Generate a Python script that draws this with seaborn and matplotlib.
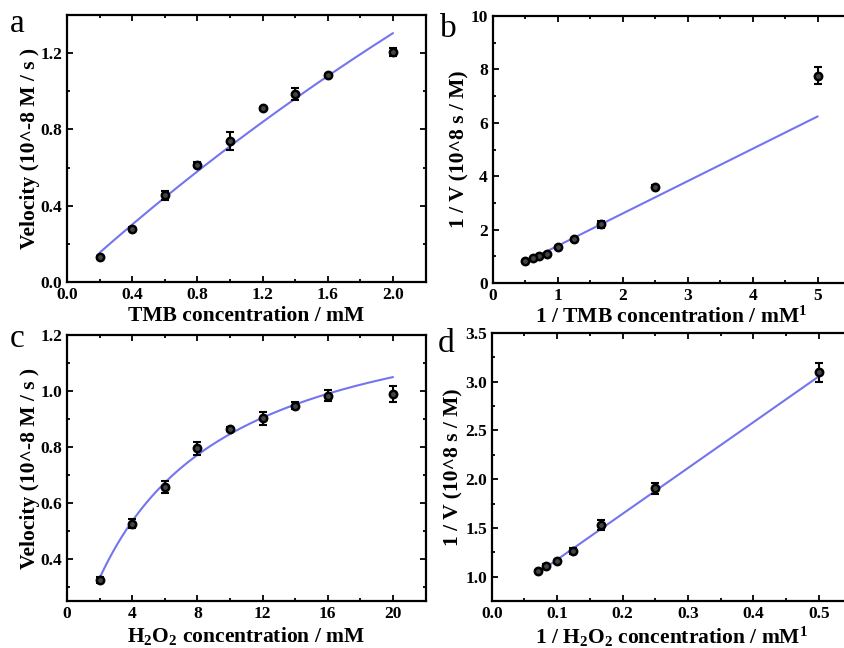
import numpy as np
import matplotlib
matplotlib.use("Agg")
import matplotlib.pyplot as plt
from matplotlib.ticker import MultipleLocator, FormatStrFormatter
import seaborn as sns

# ---- TMB series (panel a) ----
tmb_conc = [0.2, 0.4, 0.6, 0.8, 1.0, 1.2, 1.4, 1.6, 2.0]
tmb_vel = [0.13, 0.28, 0.455, 0.615, 0.74, 0.91, 0.985, 1.085, 1.205]
tmb_err = [0.008, 0.008, 0.023, 0.012, 0.046, 0.01, 0.033, 0.008, 0.02]
tmb_vmax, tmb_km = 7.83, 10.0

# ---- Lineweaver-Burk, TMB (panel b) ----
tmb_inv_conc = [5.0, 2.5, 1.667, 1.25, 1.0, 0.833, 0.714, 0.625, 0.5]
tmb_inv_vel = [7.77, 3.6, 2.2, 1.63, 1.35, 1.10, 1.015, 0.92, 0.83]
tmb_inv_err = [0.31, 0.06, 0.14, 0.05, 0.05, 0.04, 0.04, 0.03, 0.03]
tmb_lb_slope, tmb_lb_icpt = 1.212, 0.18

# ---- H2O2 series (panel c) ----
h2o2_conc = [2, 4, 6, 8, 10, 12, 14, 16, 20]
h2o2_vel = [0.325, 0.526, 0.656, 0.795, 0.864, 0.902, 0.948, 0.983, 0.988]
h2o2_err = [0.01, 0.017, 0.021, 0.022, 0.008, 0.023, 0.013, 0.02, 0.029]
h2o2_vmax, h2o2_km = 1.382, 6.33

# ---- Lineweaver-Burk, H2O2 (panel d) ----
h2o2_inv_conc = [0.5, 0.25, 0.1667, 0.125, 0.1, 0.0833, 0.0714]
h2o2_inv_vel = [3.096, 1.905, 1.53, 1.26, 1.16, 1.11, 1.055]
h2o2_inv_err = [0.094, 0.055, 0.05, 0.03, 0.015, 0.02, 0.01]
h2o2_lb_slope, h2o2_lb_icpt = 4.70, 0.704

FIT_COLOR = "#7474f0"
W, H = 845, 648

sns.set_theme(style="ticks")
plt.rcParams["font.family"] = ["Liberation Serif", "DejaVu Serif"]
plt.rcParams["font.weight"] = "bold"
plt.rcParams["text.color"] = "black"
plt.rcParams["axes.labelcolor"] = "black"
plt.rcParams["xtick.color"] = "black"
plt.rcParams["ytick.color"] = "black"
plt.rcParams["mathtext.fontset"] = "custom"
plt.rcParams["mathtext.rm"] = "Liberation Serif:bold"
plt.rcParams["mathtext.it"] = "Liberation Serif:bold"
plt.rcParams["mathtext.bf"] = "Liberation Serif:bold"
plt.rcParams["mathtext.default"] = "rm"

fig = plt.figure(figsize=(W / 100, H / 100), dpi=100)


def px_axes(left, top, right, bottom):
    return fig.add_axes([left / W, 1 - bottom / H, (right - left) / W, (bottom - top) / H])


def style(ax, xlim, ylim, xmaj, xmin, ymaj, ymin, xfmt, yfmt, xlabel, ylabel, ylpad):
    ax.set_xlim(*xlim)
    ax.set_ylim(*ylim)
    ax.xaxis.set_major_locator(MultipleLocator(xmaj))
    ax.xaxis.set_minor_locator(MultipleLocator(xmin))
    ax.yaxis.set_major_locator(MultipleLocator(ymaj))
    ax.yaxis.set_minor_locator(MultipleLocator(ymin))
    ax.xaxis.set_major_formatter(FormatStrFormatter(xfmt))
    ax.yaxis.set_major_formatter(FormatStrFormatter(yfmt))
    ax.tick_params(which="both", direction="in", top=True, right=True,
                   width=1.3, colors="black", labelsize=12.5, pad=3.5)
    ax.tick_params(which="major", length=4.5)
    ax.tick_params(which="minor", length=2.5)
    for lab in ax.get_xticklabels() + ax.get_yticklabels():
        lab.set_fontweight("bold")
    for sp in ax.spines.values():
        sp.set_linewidth(1.6)
        sp.set_color("black")
        sp.set_visible(True)
    ax.set_xlabel(xlabel, fontsize=15.5, fontweight="bold", labelpad=2)
    ax.set_ylabel(ylabel, fontsize=15.5, fontweight="bold", labelpad=ylpad)
    ax.set_facecolor("white")


def draw(ax, x, y, err, fx, fy):
    sns.lineplot(x=fx, y=fy, ax=ax, color=FIT_COLOR, linewidth=1.5, zorder=2)
    ax.errorbar(x, y, yerr=err, fmt="none", ecolor="black", elinewidth=1.5,
                capsize=3.2, capthick=1.5, zorder=3)
    sns.scatterplot(x=x, y=y, ax=ax, marker="o", s=28, facecolor="#444444",
                    edgecolor="black", linewidth=1.8, zorder=4)


# panel a
ax_a = px_axes(67, 15, 425.6, 282)
fx = np.linspace(min(tmb_conc), max(tmb_conc), 200)
draw(ax_a, tmb_conc, tmb_vel, tmb_err, fx, tmb_vmax * fx / (tmb_km + fx))
style(ax_a, (0, 2.2), (0, 1.4), 0.4, 0.2, 0.4, 0.2, "%.1f", "%.1f",
      "TMB concentration / mM", "Velocity (10^-8 M / s )", 0.5)

# panel b
ax_b = px_axes(492.7, 16, 850.2, 283)
fx = np.linspace(min(tmb_inv_conc), max(tmb_inv_conc), 200)
draw(ax_b, tmb_inv_conc, tmb_inv_vel, tmb_inv_err, fx, tmb_lb_slope * fx + tmb_lb_icpt)
style(ax_b, (0, 5.5), (0, 10), 1, 0.5, 2, 1, "%d", "%d",
      "1 / TMB concentration / mM$^{1}$", "1 / V (10^8 s / M)", 0.5)

# panel c
ax_c = px_axes(67, 335, 425.6, 601)
fx = np.linspace(min(h2o2_conc), max(h2o2_conc), 200)
draw(ax_c, h2o2_conc, h2o2_vel, h2o2_err, fx, h2o2_vmax * fx / (h2o2_km + fx))
style(ax_c, (0, 22), (0.25, 1.2), 4, 2, 0.2, 0.1, "%d", "%.1f",
      "H$_2$O$_2$ concentration / mM", "Velocity (10^-8 M / s )", 0.5)

# panel d
ax_d = px_axes(491.7, 333, 851.4, 601)
fx = np.linspace(min(h2o2_inv_conc), max(h2o2_inv_conc), 200)
draw(ax_d, h2o2_inv_conc, h2o2_inv_vel, h2o2_inv_err, fx, h2o2_lb_slope * fx + h2o2_lb_icpt)
style(ax_d, (0, 0.55), (0.75, 3.5), 0.1, 0.05, 0.5, 0.25, "%.1f", "%.1f",
      "1 / H$_2$O$_2$ concentration / mM$^{1}$", "1 / V (10^8 s / M)", 1.5)

# panel letters
for letter, x, y in [("a", 10, 32), ("b", 440, 37), ("c", 10, 347), ("d", 438, 352)]:
    fig.text(x / W, 1 - y / H, letter, fontsize=24, fontweight="normal",
             ha="left", va="baseline")

fig.savefig("out.png", dpi=100, facecolor="white")
